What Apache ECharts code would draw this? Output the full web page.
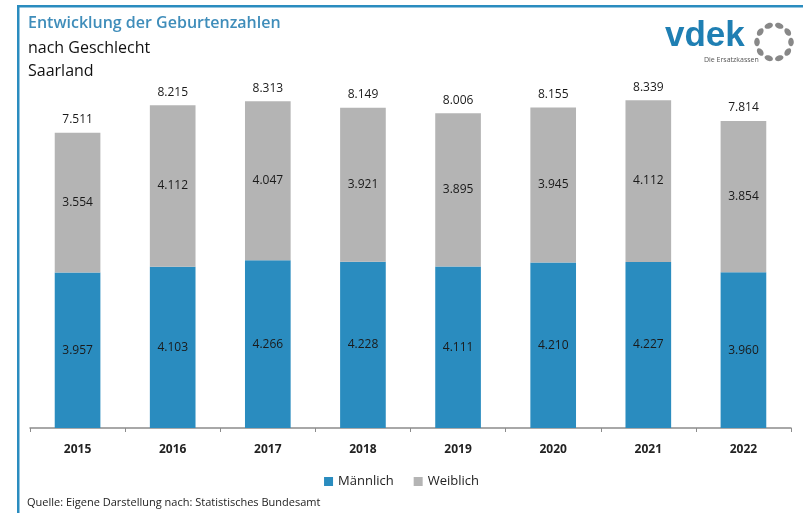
<!DOCTYPE html>
<html>
<head>
<meta charset="utf-8">
<script src="https://cdn.jsdelivr.net/npm/echarts@6/dist/echarts.min.js"></script>
<style>
  html, body { margin: 0; padding: 0; background: #fff; }
  #chart { width: 803px; height: 513px; }
</style>
</head>
<body>
<div id="chart"></div>
<script>
// values
const years = ['2015', '2016', '2017', '2018', '2019', '2020', '2021', '2022'];
const maennlich = [3957, 4103, 4266, 4228, 4111, 4210, 4227, 3960];
const weiblich = [3554, 4112, 4047, 3921, 3895, 3945, 4112, 3854];
const gesamt = [7511, 8215, 8313, 8149, 8006, 8155, 8339, 7814];

const BLUE = '#2a8cbf';
const GRAY = '#b4b4b4';
const FONT = 'Open Sans';

// 7511 -> "7.511"
function fmt(v) {
  return String(v).replace(/\B(?=(\d{3})+(?!\d))/g, '.');
}

// ring of dots for the logo
const dots = [];
for (let i = 0; i < 10; i++) {
  const a = (i / 10) * Math.PI * 2;
  dots.push({
    type: 'ellipse',
    x: 774 + Math.cos(a) * 17,
    y: 42 + Math.sin(a) * 17,
    rotation: -a,
    shape: { cx: 0, cy: 0, rx: 2.8, ry: 4.3 },
    style: { fill: '#888' }
  });
}

const chart = echarts.init(document.getElementById('chart'));
chart.setOption({
  animation: false,
  textStyle: { fontFamily: FONT },
  grid: { left: 30, right: 12, top: 35, bottom: 85 },
  xAxis: {
    type: 'category',
    data: years,
    axisLine: { lineStyle: { color: '#8c8c8c', width: 1.5 } },
    axisTick: { show: true, length: 4, inside: false, lineStyle: { color: '#8c8c8c' } },
    axisLabel: { color: '#222', fontSize: 12, fontWeight: 'bold', margin: 16 }
  },
  yAxis: { type: 'value', min: 0, max: 10000, show: false },
  legend: {
    data: ['Männlich', 'Weiblich'],
    left: 'center',
    top: 470,
    itemWidth: 9,
    itemHeight: 9,
    itemGap: 20,
    icon: 'rect',
    textStyle: { fontSize: 13, color: '#222' }
  },
  series: [
    {
      name: 'Männlich',
      type: 'bar',
      stack: 'g',
      barWidth: '48%',
      data: maennlich,
      itemStyle: { color: BLUE },
      label: {
        show: true, position: 'inside', color: '#1a1a1a', fontSize: 12,
        formatter: p => fmt(p.value)
      }
    },
    {
      name: 'Weiblich',
      type: 'bar',
      stack: 'g',
      data: weiblich,
      itemStyle: { color: GRAY },
      label: {
        show: true, position: 'inside', color: '#1a1a1a', fontSize: 12,
        formatter: p => fmt(p.value)
      }
    },
    {
      name: 'Gesamt',
      type: 'bar',
      stack: 'g',
      data: gesamt.map(() => 0),
      itemStyle: { color: 'transparent' },
      label: {
        show: true, position: 'top', distance: 7, color: '#1a1a1a', fontSize: 12,
        formatter: p => fmt(gesamt[p.dataIndex])
      }
    }
  ],
  graphic: [
    { type: 'rect', shape: { x: 17, y: 5, width: 790, height: 2.5 }, style: { fill: BLUE } },
    { type: 'rect', shape: { x: 17, y: 5, width: 2.5, height: 510 }, style: { fill: BLUE } },
    { type: 'text', left: 28, top: 15, style: { text: 'Entwicklung der Geburtenzahlen', fill: '#3f8dba', font: '600 16px "Open Sans"' } },
    { type: 'text', left: 28, top: 40, style: { text: 'nach Geschlecht', fill: '#111', font: '16px "Open Sans"' } },
    { type: 'text', left: 28, top: 63, style: { text: 'Saarland', fill: '#111', font: '16px "Open Sans"' } },
    { type: 'text', left: 27, top: 497, style: { text: 'Quelle: Eigene Darstellung nach: Statistisches Bundesamt', fill: '#222', font: '11px "Open Sans"' } },
    { type: 'text', left: 665, top: 19, style: { text: 'vdek', fill: '#1f7fb3', font: 'bold 35px "Liberation Sans"' } },
    { type: 'text', left: 704, top: 56, style: { text: 'Die Ersatzkassen', fill: '#555', font: '7px "Open Sans"' } }
  ].concat(dots)
});
</script>
</body>
</html>
